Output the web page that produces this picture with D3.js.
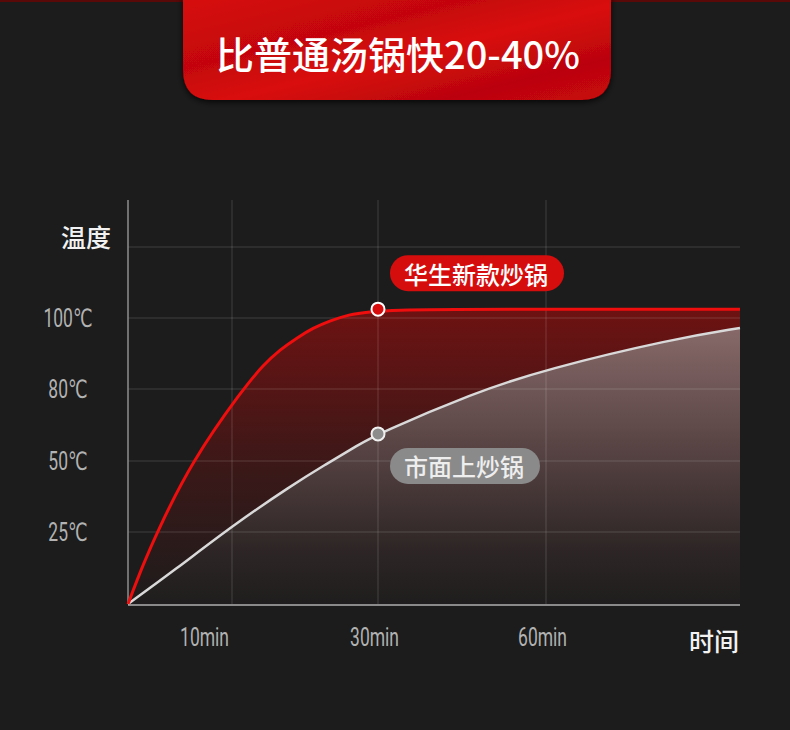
<!DOCTYPE html>
<html>
<head>
<meta charset="utf-8">
<script src="https://cdn.jsdelivr.net/npm/d3@7"></script>
<style>
  html, body { margin: 0; padding: 0; background: #1c1c1c; }
  svg { display: block; }
  .num { font-family: Roboto, "DejaVu Sans", sans-serif; fill: #b2b2b2; }
  .cjk { font-family: "Noto Sans CJK SC", "Noto Sans", sans-serif; }
</style>
</head>
<body>
<svg id="chart" width="790" height="730"></svg>
<script>
// values (minutes, degrees C)
const title = "比普通汤锅快20-40%";
const yTitle = "温度";
const xTitle = "时间";
const newPanName = "华生新款炒锅";
const oldPanName = "市面上炒锅";

const xTicks = [10, 30, 60];
const yTicks = [25, 50, 80, 100];
const yGrid = [25, 50, 80, 100, 120];

const newPan = [
  [0, 0], [1.35, 12.8], [2.8, 25], [6.15, 50], [11.5, 80], [14.3, 86.8],
  [16.6, 91.1], [18.9, 94.4], [21.1, 97.2], [23.4, 99.2], [25.7, 100.8],
  [30, 102.5], [60, 102.5], [90, 102.5]
];
const oldPan = [
  [0, 0], [4.5, 11.8], [10, 27.1], [18.2, 41.5], [22.7, 48.6], [27.3, 56.7],
  [30, 61.3], [47, 78.3], [60, 85.6], [79.6, 94.1], [90, 97.2]
];
const markAt = 30;

const width = 790, height = 730;
const svg = d3.select("#chart");

// the axes are not evenly spaced in the picture, so piecewise scales
const x = d3.scaleLinear()
  .domain([0, 10, 30, 60, 90])
  .range([128, 232, 378, 546, 740]);
const y = d3.scaleLinear()
  .domain([0, 25, 50, 80, 100, 120])
  .range([604, 532, 461, 389, 318, 247]);

const plotTop = 200;
const squeeze = 0.7; // narrow digits like the picture's condensed face

const defs = svg.append("defs");

const bannerGrad = defs.append("linearGradient")
  .attr("id", "banner-grad")
  .attr("x1", "0").attr("y1", "0").attr("x2", "1").attr("y2", "1");
bannerGrad.append("stop").attr("offset", "0%").attr("stop-color", "#d80a0c");
bannerGrad.append("stop").attr("offset", "35%").attr("stop-color", "#c40608");
bannerGrad.append("stop").attr("offset", "55%").attr("stop-color", "#d90b0d");
bannerGrad.append("stop").attr("offset", "80%").attr("stop-color", "#bb0507");
bannerGrad.append("stop").attr("offset", "100%").attr("stop-color", "#c9080a");

const redGrad = defs.append("linearGradient")
  .attr("id", "red-grad")
  .attr("gradientUnits", "userSpaceOnUse")
  .attr("x1", 0).attr("y1", y(102.5)).attr("x2", 0).attr("y2", y(0));
redGrad.append("stop").attr("offset", "0%").attr("stop-color", "#6e1212");
redGrad.append("stop").attr("offset", "55%").attr("stop-color", "#3a1818");
redGrad.append("stop").attr("offset", "100%").attr("stop-color", "#1e1c1c");

const grayGrad = defs.append("linearGradient")
  .attr("id", "gray-grad")
  .attr("gradientUnits", "userSpaceOnUse")
  .attr("x1", 0).attr("y1", y(97.2)).attr("x2", 0).attr("y2", y(0));
grayGrad.append("stop").attr("offset", "0%").attr("stop-color", "#876969");
grayGrad.append("stop").attr("offset", "45%").attr("stop-color", "#564242");
grayGrad.append("stop").attr("offset", "80%").attr("stop-color", "#2e2626");
grayGrad.append("stop").attr("offset", "100%").attr("stop-color", "#1f1d1d");

const shadow = defs.append("filter").attr("id", "shadow")
  .attr("x", "-10%").attr("y", "-10%").attr("width", "120%").attr("height", "130%");
shadow.append("feDropShadow")
  .attr("dx", 0).attr("dy", 2).attr("stdDeviation", 3)
  .attr("flood-color", "#000").attr("flood-opacity", 0.8);

// top strip and title banner
svg.append("rect")
  .attr("x", 0).attr("y", 0).attr("width", width).attr("height", 2)
  .attr("fill", "#5a0808");

const bx0 = 183, bx1 = 611, by1 = 100, br = 30;
svg.append("path")
  .attr("d", `M${bx0},-5 L${bx1},-5 L${bx1},${by1 - br} Q${bx1},${by1} ${bx1 - br},${by1}
    L${bx0 + br},${by1} Q${bx0},${by1} ${bx0},${by1 - br} Z`)
  .attr("fill", "url(#banner-grad)")
  .attr("filter", "url(#shadow)");

svg.append("text")
  .attr("class", "cjk")
  .attr("x", (bx0 + bx1) / 2 + 1)
  .attr("y", 52)
  .attr("text-anchor", "middle")
  .attr("dominant-baseline", "central")
  .attr("font-size", 38)
  .attr("font-weight", 500)
  .attr("fill", "#fff")
  .text(title);

// smooth curve through the read points
const curve = d3.curveBasis;

// filled areas
const area = d3.area()
  .x(d => x(d[0]))
  .y0(y(0))
  .y1(d => y(d[1]))
  .curve(curve);

svg.append("path")
  .datum(newPan)
  .attr("d", area)
  .attr("fill", "url(#red-grad)");

svg.append("path")
  .datum(oldPan)
  .attr("d", area)
  .attr("fill", "url(#gray-grad)");

// grid
const grid = svg.append("g").attr("id", "grid");
grid.selectAll(".horizontal")
  .data(yGrid)
  .enter()
  .append("line")
  .classed("horizontal", true)
  .attr("x1", x(0))
  .attr("x2", x(90))
  .attr("y1", d => y(d))
  .attr("y2", d => y(d))
  .attr("stroke", "rgba(255,255,255,0.16)")
  .attr("stroke-width", 1);

grid.selectAll(".vertical")
  .data(xTicks)
  .enter()
  .append("line")
  .classed("vertical", true)
  .attr("x1", d => x(d))
  .attr("x2", d => x(d))
  .attr("y1", plotTop)
  .attr("y2", y(0))
  .attr("stroke", "rgba(255,255,255,0.16)")
  .attr("stroke-width", 1);

// axis lines
svg.append("line")
  .attr("x1", x(0)).attr("x2", x(0))
  .attr("y1", plotTop).attr("y2", y(0))
  .attr("stroke", "#8e8e8e").attr("stroke-width", 1.5);

svg.append("line")
  .attr("x1", x(0)).attr("x2", x(90))
  .attr("y1", y(0) + 1).attr("y2", y(0) + 1)
  .attr("stroke", "#8a8a8a").attr("stroke-width", 2);

// tick labels through d3 axes
const yAxis = svg.append("g")
  .attr("transform", `translate(${x(0)},0)`)
  .call(d3.axisLeft(y).tickValues(yTicks).tickFormat(d => d + "℃").tickSize(0));
yAxis.select(".domain").remove();
yAxis.selectAll("text")
  .attr("class", "num")
  .attr("transform", `scale(${squeeze},1)`)
  .attr("x", -60 / squeeze)
  .attr("text-anchor", "middle")
  .attr("font-size", 25)
  .attr("fill", "#b2b2b2");

const xAxis = svg.append("g")
  .attr("transform", `translate(0,${y(0)})`)
  .call(d3.axisBottom(x).tickValues(xTicks).tickFormat(d => d + "min").tickSize(0));
xAxis.select(".domain").remove();
xAxis.selectAll("text")
  .attr("class", "num")
  .attr("transform", `scale(${squeeze},1)`)
  .attr("x", d => (d === 10 ? -28 : -4) / squeeze)
  .attr("y", 33)
  .attr("dy", "0.35em")
  .attr("text-anchor", "middle")
  .attr("font-size", 25)
  .attr("fill", "#b2b2b2");

svg.append("text")
  .attr("class", "cjk")
  .attr("x", 86).attr("y", 236)
  .attr("text-anchor", "middle")
  .attr("dominant-baseline", "central")
  .attr("font-size", 25)
  .attr("font-weight", 500)
  .attr("fill", "#f2f2f2")
  .text(yTitle);

svg.append("text")
  .attr("class", "cjk")
  .attr("x", 714).attr("y", 640)
  .attr("text-anchor", "middle")
  .attr("dominant-baseline", "central")
  .attr("font-size", 25)
  .attr("font-weight", 500)
  .attr("fill", "#f2f2f2")
  .text(xTitle);

// lines
const line = d3.line()
  .x(d => x(d[0]))
  .y(d => y(d[1]))
  .curve(curve);

svg.append("path")
  .datum(oldPan)
  .attr("d", line)
  .attr("fill", "none")
  .attr("stroke", "#d9d9d9")
  .attr("stroke-width", 2.5);

svg.append("path")
  .datum(newPan)
  .attr("d", line)
  .attr("fill", "none")
  .attr("stroke", "#ee0e0e")
  .attr("stroke-width", 3);

// markers at 30 min
const newAt = newPan.find(d => d[0] === markAt);
const oldAt = oldPan.find(d => d[0] === markAt);

svg.append("circle")
  .attr("cx", x(newAt[0])).attr("cy", y(newAt[1])).attr("r", 6.5)
  .attr("fill", "#d70c0c").attr("stroke", "#fff").attr("stroke-width", 2);

svg.append("circle")
  .attr("cx", x(oldAt[0])).attr("cy", y(oldAt[1])).attr("r", 6.5)
  .attr("fill", "#8c8c8c").attr("stroke", "#f0f0f0").attr("stroke-width", 2);

// labels in pills
function pill(px, py, label, fill, textFill) {
  const g = svg.append("g").attr("transform", `translate(${px},${py})`);
  const rect = g.append("rect").attr("fill", fill);
  const t = g.append("text")
    .attr("class", "cjk")
    .attr("x", 14)
    .attr("y", 0)
    .attr("dominant-baseline", "central")
    .attr("font-size", 24)
    .attr("font-weight", 500)
    .attr("fill", textFill)
    .text(label);
  const w = t.node().getComputedTextLength() + 30;
  const h = 36;
  rect.attr("x", 0).attr("y", -h / 2).attr("width", w).attr("height", h).attr("rx", h / 2);
}

pill(x(newAt[0]) + 12, y(newAt[1]) - 36, newPanName, "#d60d0d", "#ffffff");
pill(x(oldAt[0]) + 12, y(oldAt[1]) + 32, oldPanName, "#8a8a8a", "#eeeeee");
</script>
</body>
</html>
